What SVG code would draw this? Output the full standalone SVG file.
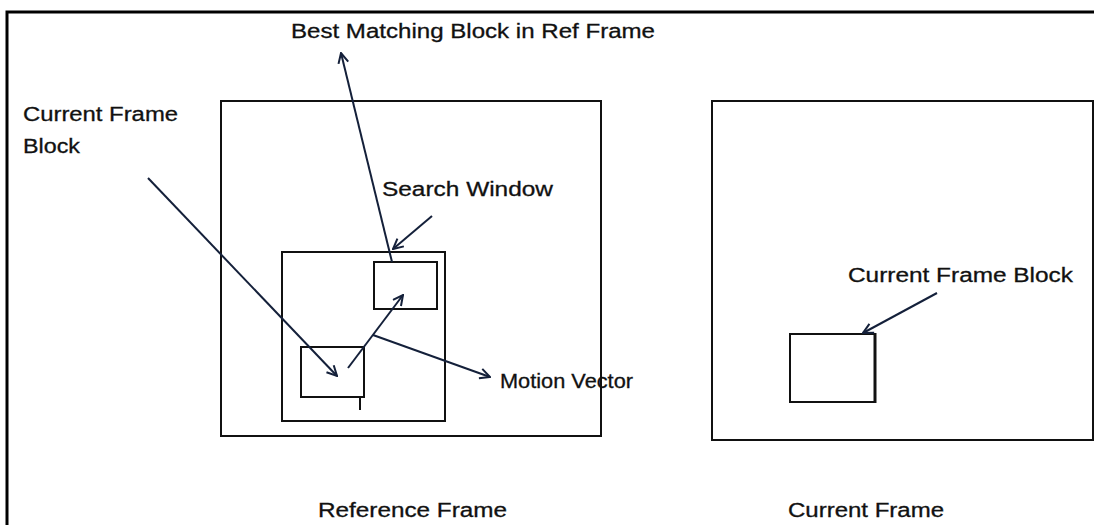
<svg xmlns="http://www.w3.org/2000/svg" width="1094" height="525" viewBox="0 0 1094 525">
  <style>
    .frame { fill: none; stroke: #111; stroke-width: 2; }
    .conn { fill: none; stroke: #14203a; stroke-width: 2; marker-end: url(#open); }
    .lbl { font-family: "Liberation Sans", Arial, sans-serif; font-size: 20px; fill: #111; stroke: #111; stroke-width: 0.3; }
  </style>
  <defs>
    <marker id="open" viewBox="0 0 12 12" refX="11" refY="6" markerWidth="12" markerHeight="12" markerUnits="userSpaceOnUse" orient="auto">
      <path d="M1,1 L11,6 L1,11" fill="none" stroke="#14203a" stroke-width="2"/>
    </marker>
  </defs>
  <rect width="1094" height="525" fill="#fff"/>
  <!-- page border (top and left edges) -->
  <path d="M7,525 V12 H1094" fill="none" stroke="#000" stroke-width="3"/>

  <g id="reference-frame">
    <rect class="frame" x="221" y="101" width="380" height="335"/>
    <text class="lbl" x="318" y="517" textLength="189" lengthAdjust="spacingAndGlyphs">Reference Frame</text>
  </g>
  <g id="search-window">
    <rect class="frame" x="282" y="252" width="163" height="169"/>
  </g>
  <g id="best-match-block">
    <rect class="frame" x="374" y="262" width="63" height="47"/>
  </g>
  <g id="ref-current-block">
    <rect class="frame" x="301" y="347" width="63" height="50"/>
    <line x1="360" y1="397" x2="360" y2="410" stroke="#111" stroke-width="2"/>
  </g>
  <g id="current-frame">
    <rect class="frame" x="712" y="101" width="381" height="339"/>
    <text class="lbl" x="788" y="517" textLength="156" lengthAdjust="spacingAndGlyphs">Current Frame</text>
  </g>
  <g id="current-block">
    <rect class="frame" x="790" y="334" width="85" height="68"/>
    <line x1="875" y1="333" x2="875" y2="403" stroke="#111" stroke-width="3"/>
  </g>

  <g id="labels">
    <text class="lbl" x="291" y="38" textLength="364" lengthAdjust="spacingAndGlyphs">Best Matching Block in Ref Frame</text>
    <text class="lbl" x="23" y="121" textLength="155" lengthAdjust="spacingAndGlyphs">Current Frame</text>
    <text class="lbl" x="23" y="153" textLength="57" lengthAdjust="spacingAndGlyphs">Block</text>
    <text class="lbl" x="382" y="196" textLength="171" lengthAdjust="spacingAndGlyphs">Search Window</text>
    <text class="lbl" x="500" y="388" textLength="133" lengthAdjust="spacingAndGlyphs">Motion Vector</text>
    <text class="lbl" x="848" y="282" textLength="225" lengthAdjust="spacingAndGlyphs">Current Frame Block</text>
  </g>

  <g id="connectors">
    <line class="conn" x1="148" y1="178" x2="337" y2="376"/>
    <line class="conn" x1="348" y1="368" x2="403" y2="295"/>
    <line class="conn" x1="373" y1="335" x2="490" y2="377"/>
    <line class="conn" x1="392" y1="262" x2="341" y2="53"/>
    <line class="conn" x1="432" y1="216" x2="393" y2="249"/>
    <line class="conn" x1="937" y1="293" x2="863" y2="333"/>
  </g>
</svg>
